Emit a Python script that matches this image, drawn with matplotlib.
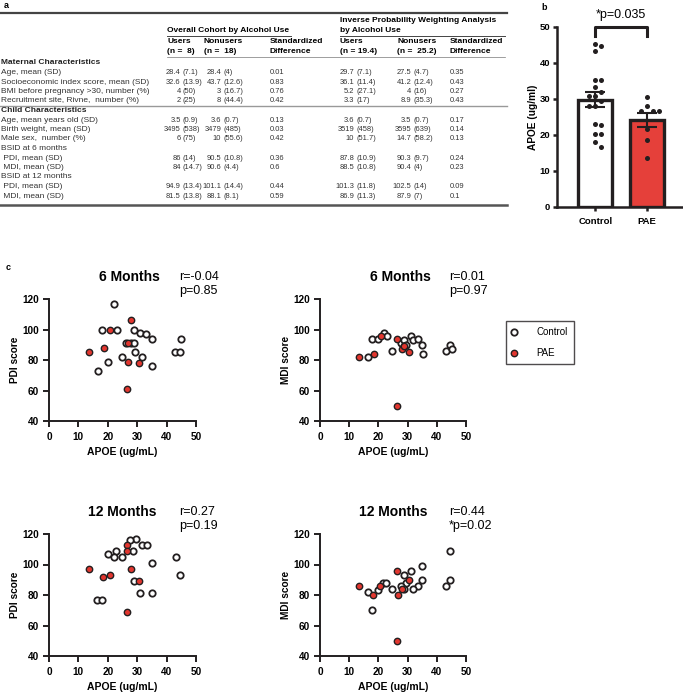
import numpy as np
import matplotlib.pyplot as plt
from matplotlib import font_manager
from matplotlib.lines import Line2D

plt.rcParams["font.family"] = ["Liberation Sans", "DejaVu Sans"]

W, H = 683, 696
RED = "#e2362f"
BAR_RED = "#e5403a"
INK = "#231f20"

# ==================================================
# DATA
# ==================================================

# panel a - table
row_labels = [
    "Maternal Characteristics", "Age, mean (SD)",
    "Socioeconomic index score, mean (SD)",
    "BMI before pregnancy >30, number (%)",
    "Recruitment site, Rivne,  number (%)",
    "Child Characteristics", "Age, mean years old (SD)",
    "Birth weight, mean (SD)", "Male sex,  number (%)",
    "BSID at 6 months", " PDI, mean (SD)", " MDI, mean (SD)",
    "BSID at 12 months", " PDI, mean (SD)", " MDI, mean (SD)",
]
bold_rows = [0, 5]
cohort_users = ["", "28.4 (7.1)", "32.6 (13.9)", "4 (50)", "2 (25)", "",
                "3.5 (0.9)", "3495 (538)", "6 (75)", "", "86 (14)",
                "84 (14.7)", "", "94.9 (13.4)", "81.5 (13.8)"]
cohort_nonusers = ["", "28.4 (4)", "43.7 (12.6)", "3 (16.7)", "8 (44.4)", "",
                   "3.6 (0.7)", "3479 (485)", "10 (55.6)", "", "90.5 (10.8)",
                   "90.6 (4.4)", "", "101.1 (14.4)", "88.1 (8.1)"]
cohort_std = ["", "0.01", "0.83", "0.76", "0.42", "", "0.13", "0.03", "0.42",
              "", "0.36", "0.6", "", "0.44", "0.59"]
ipw_users = ["", "29.7 (7.1)", "36.1 (11.4)", "5.2 (27.1)", "3.3 (17)", "",
             "3.6 (0.7)", "3519 (458)", "10 (51.7)", "", "87.8 (10.9)",
             "88.5 (10.8)", "", "101.3 (11.8)", "86.9 (11.3)"]
ipw_nonusers = ["", "27.5 (4.7)", "41.2 (12.4)", "4 (16)", "8.9 (35.3)", "",
                "3.5 (0.7)", "3595 (639)", "14.7 (58.2)", "", "90.3 (9.7)",
                "90.4 (4)", "", "102.5 (14)", "87.9 (7)"]
ipw_std = ["", "0.35", "0.43", "0.27", "0.43", "", "0.17", "0.14", "0.13",
           "", "0.24", "0.23", "", "0.09", "0.1"]

# panel b - APOE by group
groups = ["Control", "PAE"]
control_apoe = [45.3, 44.8, 43.2, 35.4, 35.4, 33.3, 31.9, 30.7, 30.7, 29.4,
                28.0, 28.0, 23.1, 22.9, 20.3, 20.3, 18.0, 16.6]
pae_apoe = [30.5, 28.0, 26.8, 26.8, 26.8, 21.7, 18.7, 13.6]

# panel c - scatter (APOE vs score)
pdi6_ctrl_x = [22, 18, 23, 29, 31, 33, 35, 45, 26.2, 28, 29, 29.3, 24.7,
               31.6, 20, 16.5, 35, 43, 44.5]
pdi6_ctrl_y = [117, 100, 100, 100, 98, 97, 94, 94, 91, 91, 91, 85, 82, 82,
               79, 73, 76, 85, 85]
pdi6_pae_x = [28, 20.6, 18.6, 13.5, 27, 26.8, 30.5, 26.5]
pdi6_pae_y = [106, 100, 88, 85, 91, 79, 78, 61]

mdi6_ctrl_x = [16.4, 17.8, 20.0, 22.0, 22.9, 24.6, 27.8, 28.9, 28.6, 29.5,
               31.1, 31.8, 33.5, 35.1, 35.2, 43.2, 44.6, 45.1]
mdi6_ctrl_y = [82, 94, 94, 98, 96, 86, 91, 93, 89, 90, 96, 93, 94, 90, 84,
               86, 90, 87]
mdi6_pae_x = [13.4, 18.4, 20.8, 26.5, 28.0, 30.5, 26.5, 28.8]
mdi6_pae_y = [82, 84, 96, 94, 87, 85, 50, 89]

pdi12_ctrl_x = [29.5, 27.6, 31.5, 33.4, 22.8, 20.0, 22.0, 24.8, 28.7, 35.1,
                43.1, 44.6, 28.8, 31.0, 35.1, 16.3, 17.9]
pdi12_ctrl_y = [117, 116, 113, 113, 109, 107, 105, 105, 109, 101, 105, 93,
                89, 81, 81, 77, 77]
pdi12_pae_x = [26.4, 26.4, 13.5, 18.5, 20.7, 27.9, 30.5, 26.4]
pdi12_pae_y = [113, 109, 97, 92, 93, 97, 89, 69]

mdi12_ctrl_x = [44.6, 35.1, 31.0, 28.7, 35.1, 44.5, 43.0, 33.4, 31.7, 29.4,
                27.8, 28.8, 24.6, 21.7, 22.7, 20.0, 16.4, 17.7]
mdi12_ctrl_y = [109, 99, 96, 93, 90, 90, 86, 86, 84, 88, 86, 84, 84, 88,
                88, 83, 82, 70]
mdi12_pae_x = [13.4, 18.3, 20.6, 26.5, 30.5, 28.0, 26.6, 26.5]
mdi12_pae_y = [86, 80, 86, 96, 90, 84, 80, 50]

scatter_panels = [
    ("6 Months", "r=-0.04", "p=0.85", "PDI score",
     pdi6_ctrl_x, pdi6_ctrl_y, pdi6_pae_x, pdi6_pae_y),
    ("6 Months", "r=0.01", "p=0.97", "MDI score",
     mdi6_ctrl_x, mdi6_ctrl_y, mdi6_pae_x, mdi6_pae_y),
    ("12 Months", "r=0.27", "p=0.19", "PDI score",
     pdi12_ctrl_x, pdi12_ctrl_y, pdi12_pae_x, pdi12_pae_y),
    ("12 Months", "r=0.44", "*p=0.02", "MDI score",
     mdi12_ctrl_x, mdi12_ctrl_y, mdi12_pae_x, mdi12_pae_y),
]


def px_axes(fig, x0, y0, x1, y1):
    return fig.add_axes([x0 / W, 1 - y1 / H, (x1 - x0) / W, (y1 - y0) / H])


# numbers in the table are set in a narrower face
font_names = {f.name for f in font_manager.fontManager.ttflist}
if "Liberation Sans Narrow" in font_names:
    NUM_FONT = dict(family="Liberation Sans Narrow", fontsize=6.4)
else:
    NUM_FONT = dict(family="Liberation Sans", fontsize=5.4)

fig = plt.figure(figsize=(W / 100, H / 100), dpi=100)

# overlay in pixel coords (table + panel letters)
ov = fig.add_axes([0, 0, 1, 1])
ov.set_xlim(0, W)
ov.set_ylim(H, 0)
ov.axis("off")

# ==================================================
# PANEL A - TABLE
# ==================================================

FS = 6
ov.text(4, 5, "a", fontsize=6.5, fontweight="bold", va="center")

ov.plot([0, 507], [12.5, 12.5], color="#444444", lw=1.6)
ov.text(167, 30.5, "Overall Cohort by Alcohol Use", fontsize=FS,
        fontweight="bold", va="center")
ov.text(340, 20, "Inverse Probability Weighting Analysis", fontsize=FS,
        fontweight="bold", va="center")
ov.text(340, 30.5, "by Alcohol Use", fontsize=FS, fontweight="bold",
        va="center")
ov.plot([167, 291], [36, 36], color="#444444", lw=0.7)
ov.plot([340, 505], [36, 36], color="#444444", lw=0.7)

sub_heads = [(167, "Users", "(n =  8)"), (204, "Nonusers", "(n =  18)"),
             (270, "Standardized", "Difference"),
             (340, "Users", "(n = 19.4)"), (397, "Nonusers", "(n =  25.2)"),
             (450, "Standardized", "Difference")]
for x, l1, l2 in sub_heads:
    ov.text(x, 41.5, l1, fontsize=FS, fontweight="bold", va="center")
    ov.text(x, 51.5, l2, fontsize=FS, fontweight="bold", va="center")
ov.plot([167, 505], [57, 57], color="#777777", lw=0.5)

row_y = 63 + 9.5 * np.arange(len(row_labels))
num_cols = [(cohort_users, 166.5), (cohort_nonusers, 207),
            (ipw_users, 340), (ipw_nonusers, 397)]
for i, lab in enumerate(row_labels):
    y = row_y[i]
    bold = i in bold_rows
    ov.text(1, y, lab, fontsize=FS, va="center",
            fontweight="bold" if bold else "normal",
            color="#222222" if bold else "#333333")
    for col, x0 in num_cols:
        if not col[i]:
            continue
        num, par = col[i].split(" (")
        ov.text(x0 + 14.2, y, num, ha="right", va="center",
                color="#333333", **NUM_FONT)
        ov.text(x0 + 16.4, y, "(" + par, ha="left", va="center",
                color="#333333", **NUM_FONT)
    ov.text(270, y, cohort_std[i], va="center", color="#333333", **NUM_FONT)
    ov.text(450, y, ipw_std[i], va="center", color="#333333", **NUM_FONT)

ov.plot([0, 507], [(row_y[4] + row_y[5]) / 2] * 2, color="#999999", lw=1.0)
ov.plot([0, 507], [row_y[-1] + 9, row_y[-1] + 9], color="#555555", lw=1.8)

# ==================================================
# PANEL B - BARS
# ==================================================

ov.text(541, 8, "b", fontsize=6.5, fontweight="bold", va="center")

axb = px_axes(fig, 557, 27, 682, 207)
xs = np.arange(len(groups))
data_b = [np.array(control_apoe), np.array(pae_apoe)]
means = [d.mean() for d in data_b]
sems = [d.std(ddof=1) / np.sqrt(len(d)) for d in data_b]

axb.bar(xs, means, width=0.66, color=["white", BAR_RED],
        edgecolor=INK, linewidth=2.4, zorder=1)


def swarm(values, px_per_unit, diam=5.6, step=6.0):
    placed, out = [], []
    for v in values:
        y = v * px_per_unit
        cands = [0.0]
        for k in range(1, 6):
            cands += [k * step, -k * step]
        for c in cands:
            if all((c - px) ** 2 + (y - py) ** 2 >= diam ** 2
                   for px, py in placed):
                break
        placed.append((c, y))
        out.append(c)
    return np.array(out)


px_x = 51.4
px_y = 180 / 50
for i, d in enumerate(data_b):
    off = swarm(d, px_y) / px_x
    axb.scatter(xs[i] + off, d, s=13, color=INK, zorder=3, linewidths=0)

axb.errorbar(xs, means, yerr=sems, fmt="none", ecolor=INK, elinewidth=1.5,
             capsize=7.5, capthick=1.5, zorder=4)

axb.plot([0, 0, 1, 1], [47.5, 50, 50, 47.5], color=INK, lw=2.2,
         clip_on=False)
axb.text(0.5, 53.3, "*p=0.035", fontsize=9, ha="center", va="center")

axb.set_xlim(-0.745, 1.687)
axb.set_ylim(0, 50)
axb.set_yticks([0, 10, 20, 30, 40, 50])
axb.set_xticks(xs)
axb.set_xticklabels(groups)
for lab in axb.get_xticklabels() + axb.get_yticklabels():
    lab.set_fontweight("bold")
axb.tick_params(labelsize=6.8, width=1.8, length=3, pad=2, color=INK)
axb.tick_params(axis="x", pad=4)
axb.set_ylabel("APOE (ug/ml)", fontsize=7.3, fontweight="bold")
axb.yaxis.set_label_coords(-19 / 125, 0.5)
for side in ["top", "right"]:
    axb.spines[side].set_visible(False)
for side in ["left", "bottom"]:
    axb.spines[side].set_linewidth(1.8)
    axb.spines[side].set_color(INK)

# ==================================================
# PANEL C - SCATTERS
# ==================================================

ov.text(6, 268, "c", fontsize=6.5, fontweight="bold", va="center")

boxes = [(49, 299, 196, 421), (320, 299, 466, 421),
         (49, 534, 196, 656), (320, 534, 466, 656)]
title_shift = [7, 7, 0, 0]

for (x0, y0, x1, y1), panel, dx in zip(boxes, scatter_panels, title_shift):
    title, r_txt, p_txt, ylab, cx, cy, px_, py_ = panel
    ax = px_axes(fig, x0, y0, x1, y1)
    hgt = y1 - y0
    wid = x1 - x0

    ax.scatter(cx, cy, s=21, facecolor="white", edgecolor=INK,
               linewidths=1.3, zorder=3, clip_on=False)
    ax.scatter(px_, py_, s=21, facecolor=RED, edgecolor=INK,
               linewidths=1.0, zorder=4, clip_on=False)

    ax.set_xlim(0, 50)
    ax.set_ylim(40, 120)
    ax.set_xticks([0, 10, 20, 30, 40, 50])
    ax.set_yticks([40, 60, 80, 100, 120])
    for lab in ax.get_xticklabels() + ax.get_yticklabels():
        lab.set_fontweight("bold")
    ax.tick_params(axis="x", labelsize=7.2, width=1.4, length=4, pad=4,
                   color=INK)
    ax.tick_params(axis="y", labelsize=7.2, width=1.4, length=4, pad=3,
                   color=INK)
    for side in ["top", "right"]:
        ax.spines[side].set_visible(False)
    for side in ["left", "bottom"]:
        ax.spines[side].set_linewidth(1.4)
        ax.spines[side].set_color(INK)

    ax.set_xlabel("APOE (ug/mL)", fontsize=7.5, fontweight="bold")
    ax.xaxis.set_label_coords(0.5, -26 / hgt)
    ax.set_ylabel(ylab, fontsize=7.3, fontweight="bold")
    ax.yaxis.set_label_coords(-29 / wid, 0.5)

    ax.text(0.5 + dx / wid, 1 + 22 / hgt, title, transform=ax.transAxes,
            fontsize=10, fontweight="bold", ha="center", va="center")
    ax.text(0.885, 1 + 22 / hgt, r_txt, transform=ax.transAxes, fontsize=9,
            ha="left", va="center")
    ax.text(0.885, 1 + 8 / hgt, p_txt, transform=ax.transAxes, fontsize=9,
            ha="left", va="center")

handles = [
    Line2D([], [], ls="none", marker="o", markersize=4.6,
           markerfacecolor="white", markeredgecolor=INK, markeredgewidth=1.3),
    Line2D([], [], ls="none", marker="o", markersize=4.6,
           markerfacecolor=RED, markeredgecolor=INK, markeredgewidth=1.0),
]
leg = fig.legend(handles, ["Control", "PAE"], loc="upper left",
                 bbox_to_anchor=(506 / W, 1 - 321 / H), fontsize=7,
                 frameon=True, fancybox=False, borderpad=0.65,
                 handlelength=0.4, handletextpad=2.1, labelspacing=1.1,
                 borderaxespad=0)
leg.get_frame().set_edgecolor(INK)
leg.get_frame().set_linewidth(1.0)

plt.savefig("out.png", dpi=100)
plt.close()
